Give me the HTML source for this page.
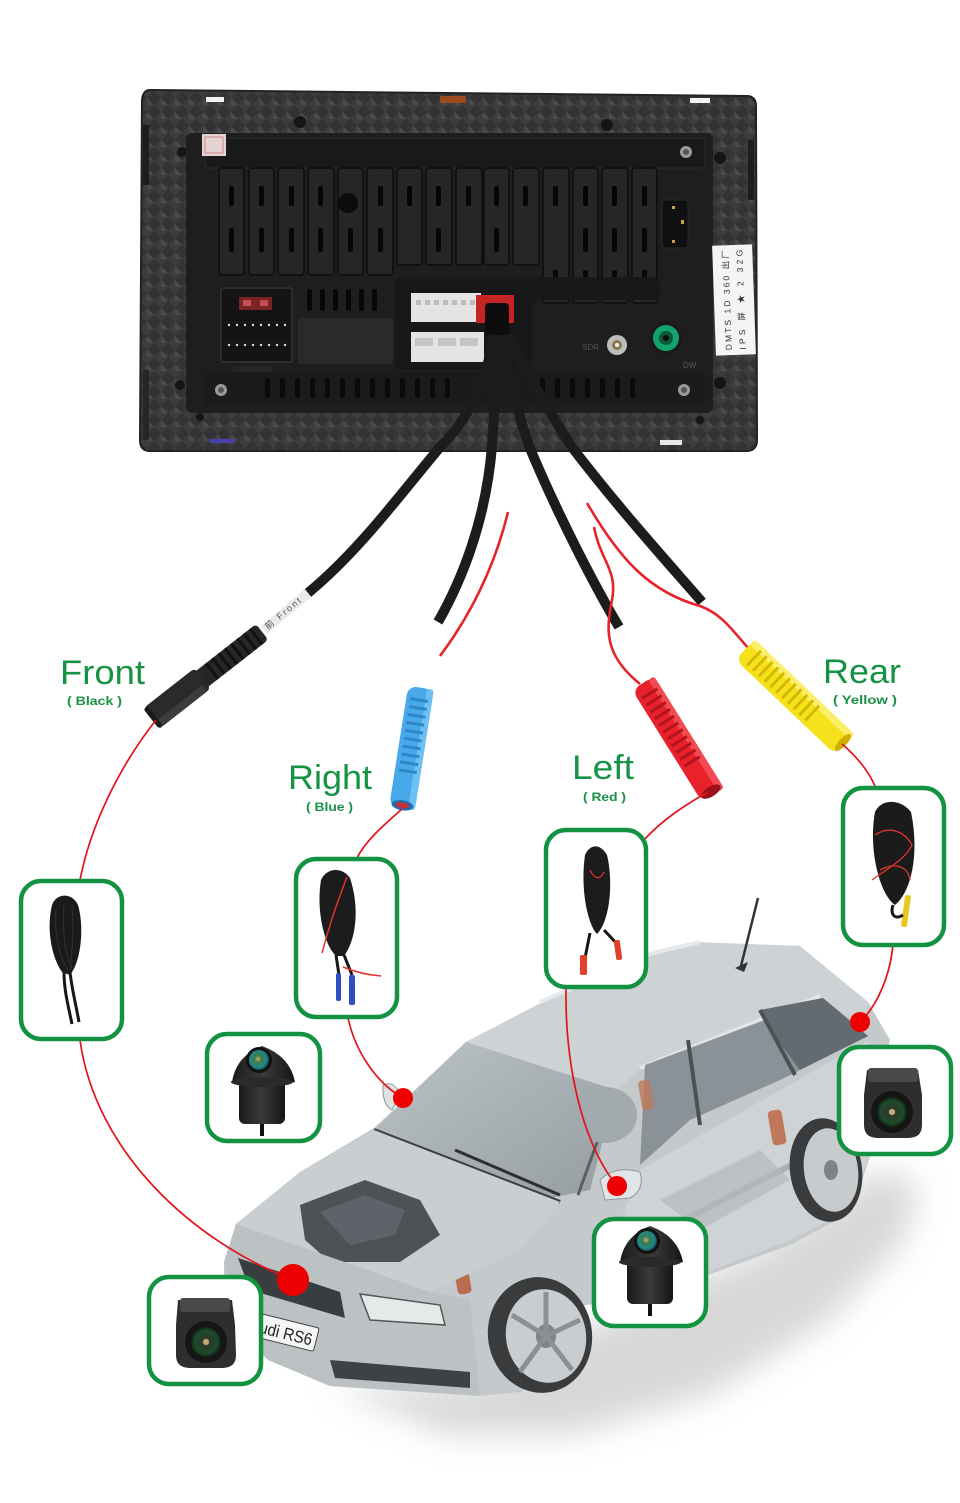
<!DOCTYPE html>
<html><head><meta charset="utf-8"><style>
html,body{margin:0;padding:0;background:#fff;}
svg{display:block;}
text{font-family:"Liberation Sans",Arial,sans-serif;}
</style></head><body>
<svg width="960" height="1503" viewBox="0 0 960 1503" xmlns="http://www.w3.org/2000/svg">
<defs>
<pattern id="cf" width="14" height="14" patternUnits="userSpaceOnUse">
<rect width="14" height="14" fill="#333335"/>
<path d="M0,7 L7,0 L14,7 L7,14Z" fill="#3d3d40"/>
<path d="M7,0 L14,7 L7,7Z" fill="#4a4a4e"/>
</pattern>
<radialGradient id="lens" cx="0.45" cy="0.45" r="0.6">
<stop offset="0" stop-color="#c8b27a"/><stop offset="0.3" stop-color="#3d7a4a"/><stop offset="0.7" stop-color="#1f8a8c"/><stop offset="1" stop-color="#103038"/>
</radialGradient>
<radialGradient id="lens2" cx="0.5" cy="0.5" r="0.55">
<stop offset="0" stop-color="#a08a60"/><stop offset="0.25" stop-color="#2a3a2a"/><stop offset="0.7" stop-color="#1b4a2a"/><stop offset="1" stop-color="#101010"/>
</radialGradient>
<linearGradient id="ws" x1="0" y1="0" x2="1" y2="1">
<stop offset="0" stop-color="#bcc3c7"/><stop offset="1" stop-color="#959da2"/>
</linearGradient>
<linearGradient id="dome" x1="0" y1="0" x2="1" y2="0">
<stop offset="0" stop-color="#1a1a1a"/><stop offset="0.5" stop-color="#3a3a3a"/><stop offset="1" stop-color="#151515"/>
</linearGradient>
<filter id="blur" x="-20%" y="-20%" width="140%" height="140%"><feGaussianBlur stdDeviation="16"/></filter>
</defs>

<!-- ================= HEAD UNIT ================= -->
<path d="M150,90 L748,96 Q756,97 756,106 L757,440 Q757,451 746,451 L150,451 Q140,451 140,440 L142,100 Q143,90 150,90 Z" fill="url(#cf)"/>
<path d="M150,90 L748,96 Q756,97 756,106 L757,440 Q757,451 746,451 L150,451 Q140,451 140,440 L142,100 Q143,90 150,90 Z" fill="none" stroke="#222" stroke-width="2"/>
<rect x="143" y="125" width="6" height="60" fill="#1d1d1d"/>
<rect x="143" y="370" width="6" height="70" fill="#262626"/>
<rect x="748" y="140" width="6" height="60" fill="#1d1d1d"/>
<rect x="206" y="97" width="18" height="5" fill="#f2f2f2"/>
<rect x="440" y="96" width="26" height="7" fill="#9a4a1c"/>
<rect x="690" y="98" width="20" height="5" fill="#f2f2f2"/>
<rect x="210" y="439" width="24" height="4" fill="#4a3fb0"/>
<rect x="660" y="440" width="22" height="5" fill="#e8e8e8"/>
<g fill="#151515">
<circle cx="300" cy="122" r="6"/><circle cx="607" cy="125" r="6"/>
<circle cx="182" cy="152" r="5"/><circle cx="720" cy="158" r="6"/>
<circle cx="180" cy="385" r="5"/><circle cx="720" cy="383" r="6"/>
<circle cx="200" cy="417" r="4"/><circle cx="700" cy="420" r="4"/>
</g>
<rect x="186" y="133" width="527" height="280" rx="6" fill="#1e1e1f"/>
<rect x="205" y="138" width="500" height="30" rx="3" fill="#191919" stroke="#2c2c2c" stroke-width="1"/>
<rect x="202" y="134" width="24" height="22" fill="#e6d2d2"/>
<rect x="205" y="137" width="18" height="16" fill="none" stroke="#c88" stroke-width="1"/>
<circle cx="686" cy="152" r="6" fill="#9a9a9a"/><circle cx="686" cy="152" r="3" fill="#555"/>
<g fill="#262627" stroke="#111" stroke-width="2">
<rect x="219" y="168" width="25" height="107" rx="3"/>
<rect x="249" y="168" width="25" height="107" rx="3"/>
<rect x="278" y="168" width="26" height="107" rx="3"/>
<rect x="308" y="168" width="26" height="107" rx="3"/>
<rect x="338" y="168" width="25" height="107" rx="3"/>
<rect x="367" y="168" width="26" height="107" rx="3"/>
<rect x="397" y="168" width="25" height="97" rx="3"/>
<rect x="426" y="168" width="26" height="97" rx="3"/>
<rect x="456" y="168" width="26" height="97" rx="3"/>
<rect x="484" y="168" width="25" height="97" rx="3"/>
<rect x="513" y="168" width="26" height="97" rx="3"/>
<rect x="543" y="168" width="26" height="135" rx="3"/>
<rect x="573" y="168" width="25" height="135" rx="3"/>
<rect x="602" y="168" width="26" height="135" rx="3"/>
<rect x="632" y="168" width="25" height="135" rx="3"/>
</g>
<g fill="#060606">
<rect x="229" y="186" width="5" height="20" rx="2"/><rect x="259" y="186" width="5" height="20" rx="2"/><rect x="289" y="186" width="5" height="20" rx="2"/>
<rect x="318" y="186" width="5" height="20" rx="2"/><rect x="378" y="186" width="5" height="20" rx="2"/>
<rect x="407" y="186" width="5" height="20" rx="2"/><rect x="436" y="186" width="5" height="20" rx="2"/><rect x="466" y="186" width="5" height="20" rx="2"/>
<rect x="494" y="186" width="5" height="20" rx="2"/><rect x="523" y="186" width="5" height="20" rx="2"/><rect x="553" y="186" width="5" height="20" rx="2"/>
<rect x="583" y="186" width="5" height="20" rx="2"/><rect x="612" y="186" width="5" height="20" rx="2"/><rect x="642" y="186" width="5" height="20" rx="2"/>
<rect x="229" y="228" width="5" height="24" rx="2"/><rect x="259" y="228" width="5" height="24" rx="2"/><rect x="289" y="228" width="5" height="24" rx="2"/>
<rect x="318" y="228" width="5" height="24" rx="2"/><rect x="348" y="228" width="5" height="24" rx="2"/><rect x="378" y="228" width="5" height="24" rx="2"/>
<rect x="436" y="228" width="5" height="24" rx="2"/><rect x="494" y="228" width="5" height="24" rx="2"/>
<rect x="583" y="228" width="5" height="24" rx="2"/><rect x="612" y="228" width="5" height="24" rx="2"/><rect x="642" y="228" width="5" height="24" rx="2"/>
<rect x="553" y="270" width="5" height="22" rx="2"/><rect x="583" y="270" width="5" height="22" rx="2"/><rect x="612" y="270" width="5" height="22" rx="2"/><rect x="642" y="270" width="5" height="22" rx="2"/>
</g>
<circle cx="348" cy="203" r="10" fill="#0c0c0c"/>
<rect x="662" y="200" width="26" height="48" rx="3" fill="#101010" stroke="#2a2a2a"/>
<rect x="672" y="206" width="3" height="3" fill="#c9a24a"/><rect x="672" y="240" width="3" height="3" fill="#c9a24a"/><rect x="681" y="220" width="3" height="4" fill="#c9a24a"/>
<rect x="221" y="288" width="71" height="74" rx="2" fill="#141414" stroke="#333" stroke-width="1.5"/>
<rect x="239" y="297" width="33" height="13" fill="#7a2424"/><rect x="243" y="300" width="8" height="6" fill="#c35050"/><rect x="260" y="300" width="8" height="6" fill="#c35050"/>
<g fill="#dcdcdc">
<circle cx="229" cy="325" r="1.2"/><circle cx="237" cy="325" r="1.2"/><circle cx="245" cy="325" r="1.2"/><circle cx="253" cy="325" r="1.2"/><circle cx="261" cy="325" r="1.2"/><circle cx="269" cy="325" r="1.2"/><circle cx="277" cy="325" r="1.2"/><circle cx="285" cy="325" r="1.2"/>
<circle cx="229" cy="345" r="1.2"/><circle cx="237" cy="345" r="1.2"/><circle cx="245" cy="345" r="1.2"/><circle cx="253" cy="345" r="1.2"/><circle cx="261" cy="345" r="1.2"/><circle cx="269" cy="345" r="1.2"/><circle cx="277" cy="345" r="1.2"/><circle cx="285" cy="345" r="1.2"/>
</g>
<g fill="#070707">
<rect x="307" y="289" width="5" height="22" rx="2"/><rect x="320" y="289" width="5" height="22" rx="2"/><rect x="333" y="289" width="5" height="22" rx="2"/><rect x="346" y="289" width="5" height="22" rx="2"/><rect x="359" y="289" width="5" height="22" rx="2"/><rect x="372" y="289" width="5" height="22" rx="2"/>
</g>
<rect x="298" y="318" width="95" height="46" rx="2" fill="#2a2a2b"/>
<path d="M395,370 L395,284 Q395,277 402,277 L650,277 Q660,277 660,287 L660,300 L540,300 Q532,300 532,308 L532,370 Z" fill="#181818"/>
<rect x="411" y="293" width="70" height="29" fill="#e4e4e4"/>
<g fill="#bdbdbd"><rect x="416" y="300" width="5" height="5"/><rect x="425" y="300" width="5" height="5"/><rect x="434" y="300" width="5" height="5"/><rect x="443" y="300" width="5" height="5"/><rect x="452" y="300" width="5" height="5"/><rect x="461" y="300" width="5" height="5"/><rect x="470" y="300" width="5" height="5"/></g>
<rect x="476" y="295" width="38" height="28" fill="#c42424"/>
<rect x="411" y="332" width="73" height="30" fill="#e4e4e4"/>
<g fill="#c4c4c4"><rect x="415" y="338" width="18" height="8"/><rect x="438" y="338" width="18" height="8"/><rect x="460" y="338" width="18" height="8"/></g>
<rect x="485" y="303" width="24" height="34" rx="4" fill="#0d0d0d"/>
<rect x="233" y="366" width="40" height="6" fill="#262626"/>
<rect x="205" y="372" width="500" height="34" fill="#1b1b1b"/>
<g fill="#0a0a0a">
<rect x="265" y="378" width="5" height="20" rx="2"/><rect x="280" y="378" width="5" height="20" rx="2"/><rect x="295" y="378" width="5" height="20" rx="2"/><rect x="310" y="378" width="5" height="20" rx="2"/><rect x="325" y="378" width="5" height="20" rx="2"/><rect x="340" y="378" width="5" height="20" rx="2"/><rect x="355" y="378" width="5" height="20" rx="2"/><rect x="370" y="378" width="5" height="20" rx="2"/><rect x="385" y="378" width="5" height="20" rx="2"/><rect x="400" y="378" width="5" height="20" rx="2"/><rect x="415" y="378" width="5" height="20" rx="2"/><rect x="430" y="378" width="5" height="20" rx="2"/><rect x="445" y="378" width="5" height="20" rx="2"/>
<rect x="540" y="378" width="5" height="20" rx="2"/><rect x="555" y="378" width="5" height="20" rx="2"/><rect x="570" y="378" width="5" height="20" rx="2"/><rect x="585" y="378" width="5" height="20" rx="2"/><rect x="600" y="378" width="5" height="20" rx="2"/><rect x="615" y="378" width="5" height="20" rx="2"/><rect x="630" y="378" width="5" height="20" rx="2"/>
</g>
<circle cx="221" cy="390" r="6" fill="#9a9a9a"/><circle cx="221" cy="390" r="3" fill="#555"/>
<circle cx="684" cy="390" r="6" fill="#9a9a9a"/><circle cx="684" cy="390" r="3" fill="#555"/>
<text x="582" y="350" font-size="8" fill="#555">SDR</text>
<circle cx="617" cy="345" r="10" fill="#bdbdbd"/><circle cx="617" cy="345" r="5" fill="#8b7b4b"/><circle cx="617" cy="345" r="2" fill="#eee"/>
<circle cx="666" cy="338" r="16" fill="#1a1a1a"/><circle cx="666" cy="338" r="13" fill="#11a36e"/><circle cx="666" cy="338" r="7" fill="#0a5a3a"/><circle cx="666" cy="338" r="3" fill="#0c0c0c"/>
<text x="683" y="368" font-size="8" fill="#555">DW</text>
<g transform="translate(734,300) rotate(-2)">
<rect x="-20" y="-55" width="40" height="110" fill="#f4f4f4"/>
<text transform="rotate(-90)" x="-50" y="-4" font-size="8.5" fill="#333" textLength="100">DMTS 1D 360 出厂</text>
<text transform="rotate(-90)" x="-50" y="10" font-size="8.5" fill="#333" textLength="100">IPS 屏 ★ 2 32G</text>
</g>

<!-- ================= CABLES ================= -->
<g fill="none" stroke="#1c1c1c" stroke-width="10" stroke-linecap="butt">
<path d="M494,335 C487,380 468,420 441,446 C402,492 360,550 308,593"/>
<path d="M497,335 C496,380 494,420 492,446 C486,520 462,580 438,622"/>
<path d="M502,335 C510,380 520,420 529,446 C560,520 597,590 619,627"/>
<path d="M507,335 C530,380 555,420 571,446 C620,510 670,565 702,602"/>
</g>
<path d="M308,593 L264,630" stroke="#eaeaea" stroke-width="10" fill="none"/>
<text transform="translate(268,630) rotate(-40)" font-size="9" fill="#555" textLength="44">前 Front</text>
<g fill="none" stroke="#e5232a" stroke-width="2.6">
<path d="M508,512 C500,545 482,600 440,656"/>
<path d="M594,527 C600,560 618,570 612,600 C606,630 604,655 640,684"/>
<path d="M587,503 C620,560 650,592 700,606 C722,614 732,630 749,649"/>
</g>

<!-- ================= CONNECTORS ================= -->
<g transform="translate(207,675) rotate(142)">
<rect x="-70" y="-10" width="80" height="20" rx="4" fill="#262626"/>
<g fill="#111"><rect x="-64" y="-10" width="3" height="20"/><rect x="-56" y="-10" width="3" height="20"/><rect x="-48" y="-10" width="3" height="20"/><rect x="-40" y="-10" width="3" height="20"/><rect x="-32" y="-10" width="3" height="20"/><rect x="-24" y="-10" width="3" height="20"/><rect x="-16" y="-10" width="3" height="20"/><rect x="-8" y="-10" width="3" height="20"/></g>
<rect x="5" y="-13" width="66" height="26" rx="5" fill="#2a2a2a"/>
<rect x="10" y="-13" width="60" height="8" fill="#3c3c3c"/>
<rect x="66" y="-12" width="5" height="24" rx="2" fill="#1a1a1a"/>
</g>
<g transform="translate(411.5,748) rotate(99)">
<rect x="-61" y="-13" width="122" height="26" rx="9" fill="#47a8ea"/>
<rect x="-61" y="-13" width="122" height="7" rx="3" fill="#6cc0f4"/>
<g fill="#2f86c9"><rect x="-50" y="-9" width="3" height="18"/><rect x="-42" y="-9" width="3" height="18"/><rect x="-34" y="-9" width="3" height="18"/><rect x="-26" y="-9" width="3" height="18"/><rect x="-18" y="-9" width="3" height="18"/><rect x="-10" y="-9" width="3" height="18"/><rect x="-2" y="-9" width="3" height="18"/><rect x="6" y="-9" width="3" height="18"/><rect x="14" y="-9" width="3" height="18"/><rect x="22" y="-9" width="3" height="18"/></g>
<ellipse cx="58" cy="0" rx="5" ry="11" fill="#1e6fae"/><ellipse cx="58" cy="0" rx="3" ry="7" fill="#c0303a"/>
</g>
<g transform="translate(678,739) rotate(58)">
<rect x="-66" y="-13" width="132" height="26" rx="9" fill="#e8212b"/>
<rect x="-66" y="-13" width="132" height="7" rx="3" fill="#f24a50"/>
<g fill="#b3141d"><rect x="-55" y="-9" width="3" height="18"/><rect x="-47" y="-9" width="3" height="18"/><rect x="-39" y="-9" width="3" height="18"/><rect x="-31" y="-9" width="3" height="18"/><rect x="-23" y="-9" width="3" height="18"/><rect x="-15" y="-9" width="3" height="18"/><rect x="-7" y="-9" width="3" height="18"/><rect x="1" y="-9" width="3" height="18"/><rect x="9" y="-9" width="3" height="18"/><rect x="17" y="-9" width="3" height="18"/><rect x="25" y="-9" width="3" height="18"/></g>
<ellipse cx="62" cy="0" rx="5" ry="11" fill="#9e1018"/>
</g>
<g transform="translate(795,697) rotate(43.5)">
<rect x="-69" y="-14" width="138" height="28" rx="9" fill="#f6e21c"/>
<rect x="-69" y="-14" width="138" height="7" rx="3" fill="#fbef6a"/>
<g fill="#d6b800"><rect x="-58" y="-10" width="3" height="20"/><rect x="-50" y="-10" width="3" height="20"/><rect x="-42" y="-10" width="3" height="20"/><rect x="-34" y="-10" width="3" height="20"/><rect x="-26" y="-10" width="3" height="20"/><rect x="-18" y="-10" width="3" height="20"/><rect x="-10" y="-10" width="3" height="20"/><rect x="-2" y="-10" width="3" height="20"/><rect x="6" y="-10" width="3" height="20"/><rect x="14" y="-10" width="3" height="20"/><rect x="22" y="-10" width="3" height="20"/></g>
<ellipse cx="66" cy="0" rx="4" ry="11" fill="#d2ac00"/>
</g>

<!-- ================= LABELS ================= -->
<g fill="#169244">
<text x="60" y="684" font-size="34" textLength="85" lengthAdjust="spacingAndGlyphs">Front</text>
<text x="67" y="705" font-size="12" font-weight="bold" textLength="55" lengthAdjust="spacingAndGlyphs">( Black )</text>
<text x="288" y="789" font-size="34" textLength="84" lengthAdjust="spacingAndGlyphs">Right</text>
<text x="306" y="811" font-size="12" font-weight="bold" textLength="47" lengthAdjust="spacingAndGlyphs">( Blue )</text>
<text x="572" y="779" font-size="34" textLength="62" lengthAdjust="spacingAndGlyphs">Left</text>
<text x="583" y="801" font-size="12" font-weight="bold" textLength="43" lengthAdjust="spacingAndGlyphs">( Red )</text>
<text x="823" y="683" font-size="34" textLength="78" lengthAdjust="spacingAndGlyphs">Rear</text>
<text x="833" y="704" font-size="12" font-weight="bold" textLength="64" lengthAdjust="spacingAndGlyphs">( Yellow )</text>
</g>

<!-- ================= CAR ================= -->
<path d="M330,1385 L450,1435 L570,1435 L710,1395 L830,1320 L905,1240 L920,1185 L880,1170 L760,1250 L600,1320 L470,1385 Z" fill="#b8b8b8" opacity="0.55" filter="url(#blur)"/>
<path d="M224,1262 L236,1224 L300,1172 L374,1128 L466,1042 L560,993 L653,951 L692,942 L800,946 L835,975 L868,1002 L890,1040 L880,1080 L872,1150 L852,1212 L790,1245 L640,1300 L585,1305 L560,1370 L520,1392 L480,1396 L330,1386 L268,1360 L238,1330 L224,1295 Z" fill="#c4c9cc"/>
<path d="M466,1042 L560,993 L653,951 L692,942 L800,946 L835,975 L868,1002 L866,1030 L823,998 L645,1065 L616,1090 Z" fill="#cdd2d5"/>
<path d="M540,1002 L653,953 L700,942" stroke="#e6e9eb" stroke-width="4" fill="none"/>
<path d="M640,1068 L820,996" stroke="#e2e5e7" stroke-width="4" fill="none"/>
<path d="M758,898 L741,966" stroke="#333" stroke-width="2.5"/>
<path d="M735,968 L748,962 L744,972 Z" fill="#333"/>
<path d="M466,1042 L616,1090 L590,1190 L540,1200 L374,1130 Z" fill="url(#ws)"/>
<path d="M374,1130 L560,1202" stroke="#3a3f42" stroke-width="4" fill="none"/>
<path d="M455,1150 L560,1195" stroke="#2c2f31" stroke-width="3" fill="none"/>
<path d="M616,1090 L578,1195" stroke="#5a6064" stroke-width="3" fill="none"/>
<path d="M645,1065 L823,998 L868,1036 L780,1080 L690,1120 L640,1165 Z" fill="#8a9297"/>
<path d="M760,1010 L823,998 L868,1036 L800,1070 L770,1030 Z" fill="#636b70"/>
<path d="M688,1040 L700,1125" stroke="#4b5256" stroke-width="4"/>
<path d="M760,1010 L795,1075" stroke="#4b5256" stroke-width="4"/>
<ellipse cx="605" cy="1115" rx="32" ry="28" fill="#a3aaae"/>
<path d="M640,1170 L868,1040 L875,1140 L850,1210 L790,1240 L640,1298 L610,1250 Z" fill="#cfd3d5"/>
<path d="M625,1250 L860,1130" stroke="#aab0b3" stroke-width="6" fill="none"/>
<path d="M660,1200 L760,1150 L790,1180 L700,1230 Z" fill="#b3b9bc" opacity="0.7"/>
<rect x="770" y="1110" width="14" height="35" rx="4" fill="#c0785a" transform="rotate(-10 777 1127)"/>
<rect x="640" y="1080" width="12" height="30" rx="4" fill="#c0785a" opacity="0.8" transform="rotate(-10 646 1095)"/>
<rect x="456" y="1268" width="14" height="26" rx="4" fill="#b86c50" transform="rotate(-10 463 1281)"/>
<path d="M600,1180 Q615,1165 640,1172 Q645,1190 630,1198 L605,1200 Z" fill="#e1e4e6" stroke="#8f969a"/>
<path d="M383,1085 Q395,1080 400,1095 L392,1110 Q382,1105 383,1085 Z" fill="#dfe2e4" stroke="#8f969a"/>
<path d="M236,1224 L300,1172 L374,1130 L560,1202 L520,1250 L430,1292 Z" fill="#c9ced1"/>
<path d="M300,1205 L365,1180 L420,1200 L440,1235 L400,1262 L330,1262 L305,1240 Z" fill="#4c5256"/>
<path d="M320,1212 L365,1195 L405,1210 L395,1235 L350,1245 Z" fill="#5d6368"/>
<path d="M224,1262 L236,1224 L430,1292 L470,1300 L480,1396 L330,1386 L268,1360 L238,1330 Z" fill="#bcc1c4"/>
<path d="M238,1258 L340,1292 L345,1318 L250,1290 Z" fill="#3a3d40"/>
<path d="M360,1294 L440,1305 L445,1325 L370,1320 Z" fill="#e6e9ea" stroke="#555" stroke-width="1.5"/>
<path d="M330,1360 L470,1372 L470,1388 L335,1378 Z" fill="#3e4245"/>
<g transform="translate(285,1333) rotate(14)">
<rect x="-30" y="-13" width="62" height="24" rx="2" fill="#f6f6f6" stroke="#444"/>
<text x="-26" y="6" font-size="17" fill="#222" textLength="54" lengthAdjust="spacingAndGlyphs">udi RS6</text>
</g>
<ellipse cx="540" cy="1335" rx="52" ry="58" fill="#3a3b3c" transform="rotate(-10 540 1335)"/>
<ellipse cx="546" cy="1336" rx="40" ry="47" fill="#c9cdd0" transform="rotate(-10 546 1336)"/>
<ellipse cx="546" cy="1336" rx="10" ry="12" fill="#7d8387"/>
<g stroke="#8a9094" stroke-width="5"><path d="M546,1336 L546,1292"/><path d="M546,1336 L580,1320"/><path d="M546,1336 L572,1370"/><path d="M546,1336 L520,1372"/><path d="M546,1336 L512,1315"/></g>
<ellipse cx="826" cy="1170" rx="36" ry="52" fill="#3a3b3c" transform="rotate(-8 826 1170)"/>
<ellipse cx="831" cy="1170" rx="27" ry="42" fill="#c7cbce" transform="rotate(-8 831 1170)"/>
<ellipse cx="831" cy="1170" rx="7" ry="10" fill="#7d8387"/>

<!-- ================= RED LINES ================= -->
<g fill="none" stroke="#e3131b" stroke-width="1.7">
<path d="M156,720 C118,768 90,828 80,880"/>
<path d="M80,1040 C95,1150 190,1240 293,1280"/>
<path d="M402,809 C385,824 366,840 357,858"/>
<path d="M348,1018 C355,1050 375,1082 403,1098"/>
<path d="M708,792 C685,805 662,820 644,840"/>
<path d="M566,988 C565,1060 580,1140 617,1186"/>
<path d="M842,744 C856,756 868,770 875,786"/>
<path d="M893,945 C890,975 878,1005 860,1022"/>
</g>
<g fill="#ee0000">
<circle cx="293" cy="1280" r="16"/>
<circle cx="403" cy="1098" r="10"/>
<circle cx="617" cy="1186" r="10"/>
<circle cx="860" cy="1022" r="10"/>
</g>

<!-- ================= GREEN BOXES ================= -->
<g fill="#fff" stroke="#139342" stroke-width="4.5">
<rect x="21" y="881" width="101" height="158" rx="20"/>
<rect x="296" y="859" width="101" height="158" rx="20"/>
<rect x="546" y="830" width="100" height="157" rx="20"/>
<rect x="843" y="788" width="101" height="157" rx="20"/>
<rect x="207" y="1034" width="113" height="107" rx="20"/>
<rect x="149" y="1277" width="112" height="107" rx="20"/>
<rect x="594" y="1219" width="112" height="107" rx="20"/>
<rect x="839" y="1047" width="112" height="107" rx="20"/>
</g>

<!-- front coil -->
<path d="M52,905 C46,930 52,958 62,972 L70,975 C82,960 84,925 78,905 C72,892 56,893 52,905 Z" fill="#1a1a1a"/>
<g fill="none" stroke="#2e2e2e" stroke-width="1.2">
<path d="M56,910 C54,935 60,958 68,970"/><path d="M64,905 C62,935 66,958 72,968"/><path d="M72,905 C74,930 72,955 70,970"/>
</g>
<g fill="none" stroke="#161616" stroke-width="3">
<path d="M64,972 C64,990 68,1005 72,1024"/>
<path d="M70,972 C72,990 76,1005 79,1022"/>
</g>
<!-- right coil -->
<path d="M321,880 C316,910 324,945 336,956 L344,956 C356,940 360,908 350,878 C342,866 326,868 321,880 Z" fill="#1c1c1c"/>
<g fill="none" stroke="#161616" stroke-width="3"><path d="M336,955 L339,975"/><path d="M344,955 L352,975"/></g>
<path d="M347,877 C338,900 328,930 322,953" stroke="#e0342a" stroke-width="1.5" fill="none"/>
<path d="M343,967 C355,972 368,975 381,976" stroke="#e0342a" stroke-width="1.5" fill="none"/>
<rect x="336" y="973" width="5" height="28" rx="2" fill="#2f4fc0"/>
<rect x="349" y="975" width="6" height="30" rx="2" fill="#2f4fc0"/>
<!-- left coil -->
<path d="M585,855 C580,890 588,925 597,934 C609,922 614,885 607,855 C600,843 590,844 585,855 Z" fill="#1c1c1c"/>
<g fill="none" stroke="#161616" stroke-width="3"><path d="M590,933 L585,958"/><path d="M604,930 L618,945"/></g>
<path d="M590,870 C595,880 600,880 604,872" stroke="#d83a2a" stroke-width="1.2" fill="none"/>
<rect x="580" y="955" width="7" height="20" rx="2" fill="#e2402a"/>
<rect x="615" y="940" width="6" height="20" rx="2" fill="#e2402a" transform="rotate(-8 618 950)"/>
<!-- rear coil -->
<path d="M875,812 C868,850 880,895 895,905 C913,890 919,850 911,812 C900,798 881,799 875,812 Z" fill="#1b1b1b"/>
<g fill="none" stroke="#e0342a" stroke-width="1.3">
<path d="M875,835 C890,825 905,832 912,845 C905,860 885,870 872,880"/>
<path d="M880,870 C895,862 908,866 910,880"/>
</g>
<rect x="903" y="895" width="6" height="32" rx="2" fill="#e8c820" transform="rotate(8 906 911)"/>
<path d="M893,905 C890,915 895,920 903,915" stroke="#161616" stroke-width="3" fill="none"/>

<!-- cameras -->
<g>
<path d="M232,1082 Q236,1056 262,1046 Q290,1056 295,1082 Q262,1090 232,1082 Z" fill="url(#dome)"/>
<rect x="239" y="1080" width="46" height="44" rx="6" fill="url(#dome)"/>
<ellipse cx="262" cy="1082" rx="31" ry="5" fill="#2a2a2a"/>
<circle cx="259" cy="1060" r="13" fill="#111"/>
<circle cx="259" cy="1060" r="10" fill="url(#lens)"/>
<rect x="260" y="1124" width="4" height="12" fill="#111"/>
</g>
<g>
<path d="M620,1262 Q624,1236 650,1226 Q678,1236 683,1262 Q650,1270 620,1262 Z" fill="url(#dome)"/>
<rect x="627" y="1260" width="46" height="44" rx="6" fill="url(#dome)"/>
<ellipse cx="650" cy="1262" rx="31" ry="5" fill="#2a2a2a"/>
<circle cx="647" cy="1241" r="13" fill="#111"/>
<circle cx="647" cy="1241" r="10" fill="url(#lens)"/>
<rect x="648" y="1304" width="4" height="12" fill="#111"/>
</g>
<g>
<path d="M178,1300 L232,1300 L235,1325 L236,1355 Q236,1368 222,1368 L190,1368 Q176,1368 176,1355 L176,1325 Z" fill="#2e2e2e"/>
<rect x="180" y="1298" width="50" height="14" rx="3" fill="#4a4a4a"/>
<circle cx="206" cy="1342" r="21" fill="#151515"/>
<circle cx="206" cy="1342" r="15" fill="url(#lens2)"/>
<circle cx="206" cy="1342" r="3" fill="#c8a87a"/>
</g>
<g>
<path d="M867,1070 L918,1070 L922,1095 L922,1125 Q922,1138 908,1138 L878,1138 Q864,1138 864,1125 L864,1095 Z" fill="#2e2e2e"/>
<rect x="868" y="1068" width="50" height="14" rx="3" fill="#4a4a4a"/>
<circle cx="892" cy="1112" r="21" fill="#151515"/>
<circle cx="892" cy="1112" r="15" fill="url(#lens2)"/>
<circle cx="892" cy="1112" r="3" fill="#c8a87a"/>
</g>
</svg>
</body></html>
